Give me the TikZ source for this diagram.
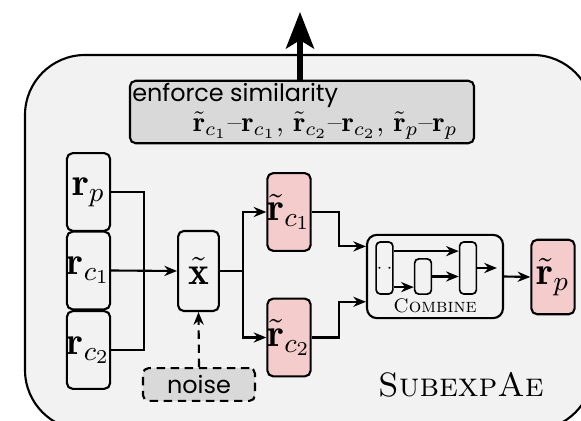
\RequirePackage{fix-cm}
\documentclass[tikz,border=0pt]{standalone}
\usepackage{fontspec}
\newfontfamily\labelfont{Poppins}
\usepackage{tikz}
\usetikzlibrary{arrows.meta, positioning, calc}
\definecolor{panel}{RGB}{242, 242, 242}
\definecolor{shade}{RGB}{217, 217, 217}
\definecolor{recon}{RGB}{244, 204, 204}

\begin{document}
\begin{tikzpicture}[x=0.0125cm, y=-0.0125cm,
        vec/.style={draw, line width=0.75pt, rounded corners=2pt, fill=panel, inner sep=0pt,
            minimum width=0.54cm, minimum height=0.97cm, font=\fontsize{14}{15}\selectfont},
        outvec/.style={vec, fill=recon},
        layer/.style={draw, line width=0.6pt, rounded corners=1.5pt, inner sep=0pt,
            minimum width=0.21cm, minimum height=0.65cm},
        greybox/.style={draw, fill=shade, line width=0.75pt, rounded corners=2pt, inner sep=0pt},
        link/.style={line width=0.75pt, -{Stealth[length=4.5pt, width=3.6pt]}},
        wire/.style={line width=0.75pt}]
        \useasboundingbox (0,0) rectangle (581,421);
        \clip (0,0) rectangle (581,421);
        \draw[line width=0.75pt, fill=panel, rounded corners=0.75cm] (25,55) rectangle (593,430);

        % inputs and corrupted input
        \node[vec] (rp)  at (88.5,192)   {$\mathbf{r}_p$};
        \node[vec] (rc1) at (88.5,270.5) {$\mathbf{r}_{c_1}$};
        \node[vec] (rc2) at (88.5,350)   {$\mathbf{r}_{c_2}$};
        \node[vec, minimum width=0.51cm, minimum height=1cm] (xt) at (198.5,271) {$\tilde{\mathbf{x}}$};
        \node[greybox, dash pattern=on 3pt off 2pt, minimum width=1.4cm, minimum height=0.41cm,
            font=\labelfont\fontsize{8.5}{10}\selectfont] (noise) at (199,384.5) {noise};

        % reconstructions
        \node[outvec] (rtc1) at (289,212)   {$\tilde{\mathbf{r}}_{c_1}$};
        \node[outvec] (rtc2) at (289,337.5) {$\tilde{\mathbf{r}}_{c_2}$};
        \node[outvec, minimum height=0.93cm] (rtp) at (553,277) {$\tilde{\mathbf{r}}_p$};

        % combine block
        \node[draw, line width=0.75pt, rounded corners=3.5pt, inner sep=0pt,
            minimum width=1.7cm, minimum height=1.04cm] (comb) at (435,276.5) {};
        \node[layer, font=\fontsize{6}{6}\selectfont] (bar1) at (384.5,268) {$\cdot\,\cdot$};
        \node[layer, minimum height=0.44cm] (bar2) at (423,276.5) {};
        \node[layer] (bar3) at (468,268) {};
        \node[font=\fontsize{7}{8}\selectfont] (combname) at (435,306) {\textsc{Combine}};
        \coordinate (cout) at ([xshift=7pt]bar3.east);

        % similarity loss
        \node[greybox, minimum width=4.3cm, minimum height=0.78cm] (sim) at (302,112) {};
        \node[anchor=north west, inner sep=1pt, font=\labelfont\fontsize{8.5}{10}\selectfont]
            (simtxt) at (sim.north west) {enforce similarity};
        \node[anchor=south east, inner sep=1pt, font=\fontsize{10}{12}\selectfont] (simeq)
            at ([xshift=-5pt, yshift=0.5pt]sim.south east)
            {$\tilde{\mathbf{r}}_{c_1}$--$\mathbf{r}_{c_1}$, $\tilde{\mathbf{r}}_{c_2}$--$\mathbf{r}_{c_2}$, $\tilde{\mathbf{r}}_p$--$\mathbf{r}_p$};
        \coordinate (up) at (300,12);

        \node[font=\fontsize{12}{14}\selectfont] (name) at (461,385) {\textsc{SubexpAe}};

        % connectors
        \coordinate (m1) at ($(rc1.east)!0.5!(xt.west)$);
        \draw[wire] (rp.east) -| (m1) |- (rc2.east);
        \draw[link] (rc1.east) -- (xt.west);
        \draw[link, dash pattern=on 3pt off 2pt] (noise.north) -- (xt.south);
        \coordinate (m2) at ($(xt.east)!0.5!(xt.east -| rtc1.west)$);
        \draw[wire] (xt.east) -- (m2);
        \draw[link] (m2) |- (rtc1.west);
        \draw[link] (m2) |- (rtc2.west);
        \coordinate (m3) at ($(rtc1.east)!0.5!(rtc1.east -| comb.west)$);
        \draw[link] (rtc1.east) -| (m3) |- ([yshift=10.7pt]comb.west);
        \draw[link] (rtc2.east) -| (m3 |- rtc2.east) |- ([yshift=-9pt]comb.west);
        \draw[link] ([yshift=6pt]bar1.east) -- ([yshift=6pt]bar1.east -| bar3.west);
        \draw[link] ([yshift=-6.8pt]bar1.east) -- ([yshift=-6.8pt]bar1.east -| bar2.west);
        \draw[link] (bar2.east) -- (bar2.east -| bar3.west);
        \draw[link] (bar3.east) -- (cout);
        \draw[link] (comb.east) -- (rtp.west);
        \draw[line width=1.8pt, -{Stealth[length=13pt, width=10pt, inset=3pt]}] (sim.north -| up) -- (up);
    \end{tikzpicture}
\end{document}
